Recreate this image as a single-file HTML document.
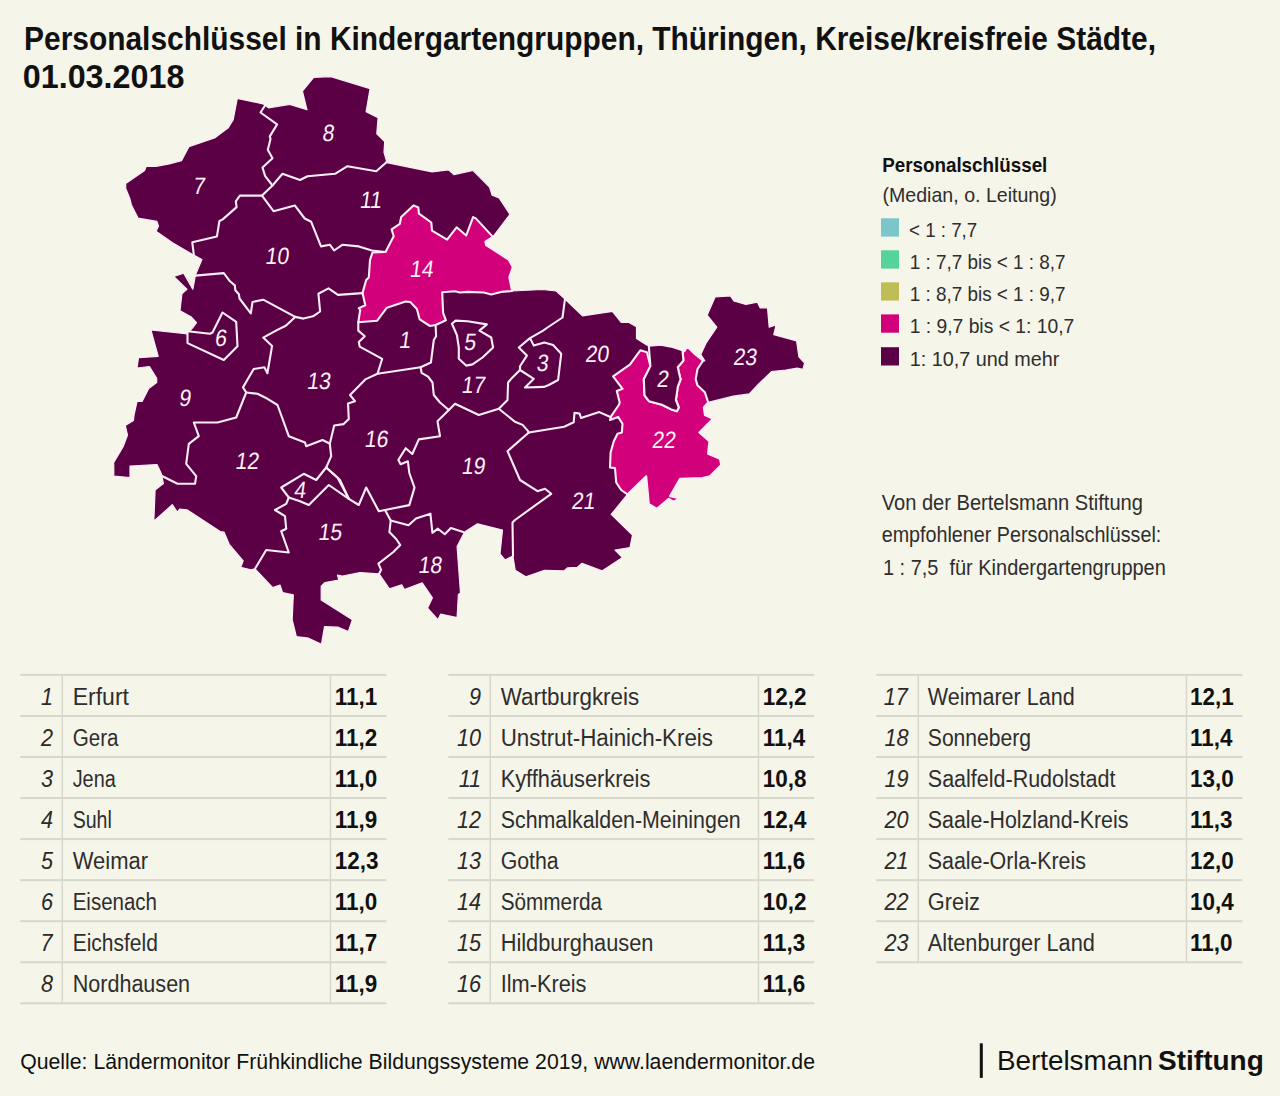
<!DOCTYPE html>
<html><head><meta charset="utf-8">
<style>
html,body{margin:0;padding:0;background:#f6f5e9}
body{width:1280px;height:1096px;overflow:hidden}
svg{display:block}
text{font-family:"Liberation Sans",sans-serif}
</style></head><body>
<svg width="1280" height="1096" viewBox="0 0 1280 1096">
<rect x="0" y="0" width="1280" height="1096" fill="#f6f5e9"/>
<polygon points="313.7,77.3 330.9,76.6 370.1,88.6 366.1,111.8 378.1,117.8 376.8,133.8 384.7,141.7 384.0,152.3 386.7,161.6 385.5,162.3 432.0,171.9 448.4,169.8 453.9,174.6 473.1,170.5 489.5,187.0 492.2,195.2 499.1,197.9 510.0,214.3 492.9,236.9 485.4,241.7 486.1,245.1 508.6,259.5 512.8,267.0 509.3,277.3 512.1,291.0 542.3,289.5 556.2,291.0 564.2,298.2 582.5,315.8 612.4,311.4 621.2,322.3 628.5,322.3 636.5,326.7 636.5,338.4 646.7,345.0 648.8,345.6 660.9,344.7 671.2,346.6 682.5,350.3 684.4,351.2 687.2,346.6 693.8,353.1 703.1,360.6 704.8,360.8 700.8,354.6 706.0,343.2 716.8,327.2 707.1,315.2 715.1,297.0 730.5,295.8 733.9,301.0 745.9,304.4 757.3,302.1 760.1,307.8 767.5,307.8 769.2,327.2 776.1,324.9 773.8,334.6 796.6,340.9 798.9,356.8 804.6,363.1 802.9,369.4 797.2,368.2 785.8,370.0 771.5,371.7 758.4,384.2 749.3,393.9 733.3,396.2 708.2,402.4 703.8,407.5 705.0,415.0 713.1,418.8 699.4,432.5 709.4,441.2 708.1,453.8 720.0,458.8 721.2,465.0 710.0,476.2 702.5,478.1 680.0,478.8 670.0,496.2 679.4,498.1 673.8,501.9 668.8,498.8 656.9,508.8 648.8,503.8 646.2,476.2 627.5,494.4 611.2,514.4 632.5,535.0 630.0,547.5 615.0,550.0 622.5,557.5 602.0,570.9 582.0,563.2 577.4,567.3 567.4,567.9 563.9,570.9 544.5,570.3 525.8,576.7 515.2,570.3 512.9,556.0 505.0,560.0 500.0,553.8 502.5,530.0 477.5,523.8 464.6,532.1 457.1,546.5 460.5,593.0 458.4,594.4 457.1,617.6 440.6,614.2 437.9,619.7 427.6,608.1 432.4,597.8 422.2,582.8 404.4,589.6 401.7,584.8 389.4,588.9 379.1,573.9 360.0,572.5 342.5,576.2 337.5,575.0 338.8,580.0 325.0,582.5 321.2,586.2 321.2,600.0 352.4,619.8 348.3,631.6 338.2,627.2 324.5,626.7 321.5,644.2 308.6,638.2 296.3,636.5 292.2,619.8 293.3,594.9 282.5,592.5 280.0,585.0 272.5,587.5 255.0,568.8 250.9,569.8 240.7,567.3 243.2,560.9 229.2,544.3 224.1,532.2 220.2,531.5 187.0,509.8 179.4,509.2 177.5,512.4 172.3,504.7 153.8,521.3 155.1,490.0 163.4,483.6 161.5,474.0 157.0,464.5 130.0,466.2 130.0,477.5 113.8,476.2 113.8,466.2 113.6,462.8 123.1,446.8 127.5,435.1 125.3,425.6 133.4,420.5 134.1,414.7 137.0,401.5 142.1,401.5 148.7,388.4 156.7,382.6 156.7,378.2 149.4,366.5 137.0,368.0 138.5,357.7 158.2,356.3 150.9,330.0 187.5,333.8 192.8,327.6 196.5,322.6 191.4,317.1 180.0,310.7 181.9,293.8 186.9,289.3 173.7,276.5 183.7,273.3 192.8,289.3 195.5,274.7 201.9,259.6 192.2,254.2 172.5,242.7 156.0,231.2 158.5,226.3 156.9,221.4 138.0,218.1 131.4,204.9 129.8,198.4 125.7,188.5 125.7,183.6 144.6,170.5 146.2,166.3 156.0,166.3 169.2,163.9 181.5,160.6 188.9,146.7 215.2,137.6 228.3,127.8 233.2,119.6 237.3,98.5 263.2,103.9 265.2,105.2 268.5,107.8 289.8,104.5 307.0,109.8 302.4,91.2" fill="#5c0046" stroke="#fbeef6" stroke-width="1.2" stroke-linejoin="round"/>
<polygon points="385.5,252.0 393.7,236.2 391.6,229.4 399.8,223.9 401.2,217.0 413.5,205.4 418.3,207.5 419.0,213.6 431.3,222.5 432.0,230.7 447.1,239.6 456.6,227.3 466.2,235.5 473.1,217.1 475.8,218.4 492.9,236.9 485.4,241.7 486.1,245.1 508.6,259.5 512.8,267.0 509.3,277.3 512.1,291.0 501.2,291.9 491.2,294.4 483.8,292.5 467.5,291.9 460.0,292.5 455.0,291.2 442.2,292.2 443.1,312.8 445.9,320.3 435.6,325.0 430.0,326.0 419.7,319.4 416.9,309.0 410.3,302.0 405.6,301.6 386.9,307.7 377.0,320.8 358.3,322.2 360.2,310.0 358.8,308.1 365.3,305.3 362.5,293.1 366.2,280.0 368.8,277.5 370.0,260.0 372.5,252.5" fill="#d2007a" stroke="#fbeef6" stroke-width="2.1" stroke-linejoin="round"/>
<polygon points="640.3,350.3 646.9,352.2 650.4,366.1 643.8,379.3 644.5,395.3 648.9,401.2 661.9,404.7 671.2,409.4 676.9,411.2 678.8,407.5 675.9,400.0 677.8,386.9 680.6,379.4 678.8,371.9 677.8,367.2 683.4,360.6 682.5,350.3 684.4,351.2 687.2,346.6 693.8,353.1 703.1,360.6 697.5,369.0 695.7,379.1 697.4,385.3 704.8,392.2 708.2,402.4 703.8,407.5 705.0,415.0 713.1,418.8 699.4,432.5 709.4,441.2 708.1,453.8 720.0,458.8 721.2,465.0 710.0,476.2 702.5,478.1 680.0,478.8 670.0,496.2 679.4,498.1 673.8,501.9 668.8,498.8 656.9,508.8 648.8,503.8 646.2,476.2 627.5,494.4 621.2,490.0 616.2,482.5 615.0,468.1 610.0,467.5 610.6,452.5 613.8,441.2 617.5,433.8 621.9,432.5 622.5,423.8 618.1,416.9 610.0,420.0 611.2,416.2 618.8,405.0 619.7,402.6 616.8,391.0 622.6,388.8 613.1,376.4 629.9,364.7" fill="#d2007a" stroke="#fbeef6" stroke-width="2.1" stroke-linejoin="round"/>
<polygon points="187.5,331.2 210.0,333.8 212.5,332.5 222.5,312.5 236.2,321.9 237.5,346.2 223.8,360.0 187.5,343.1" fill="#5c0046" stroke="#fbeef6" stroke-width="2.1" stroke-linejoin="round"/>
<polygon points="451.9,323.8 455.6,320.6 467.5,321.2 486.9,324.4 479.4,330.6 491.2,337.5 493.1,347.5 482.5,357.5 472.5,364.4 466.2,365.6 458.8,358.8 458.8,347.5 456.9,335.0 452.5,325.0" fill="#5c0046" stroke="#fbeef6" stroke-width="2.1" stroke-linejoin="round"/>
<polygon points="530.0,338.1 533.8,345.6 544.4,342.5 553.1,345.0 561.2,353.8 558.1,380.0 548.8,385.0 543.8,386.9 525.0,387.5 533.8,378.8 520.0,370.0 520.0,366.2 526.9,355.6 518.8,347.5" fill="#5c0046" stroke="#fbeef6" stroke-width="2.1" stroke-linejoin="round"/>
<polygon points="648.8,345.6 660.9,344.7 671.2,346.6 682.5,350.3 683.4,360.6 677.8,367.2 678.8,371.9 680.6,379.4 677.8,386.9 675.9,400.0 678.8,407.5 676.9,411.2 671.2,409.4 661.9,404.7 648.9,401.2 644.5,395.3 643.8,379.3 650.4,366.1" fill="#5c0046" stroke="#fbeef6" stroke-width="2.1" stroke-linejoin="round"/>
<polygon points="281.2,487.5 303.8,473.8 316.2,480.0 326.2,467.5 337.5,477.5 348.8,498.8 328.8,485.0 308.8,505.0 300.0,501.2 288.8,497.5" fill="#5c0046" stroke="#fbeef6" stroke-width="2.1" stroke-linejoin="round"/>
<polyline points="265.2,105.2 260.5,112.5 277.1,124.4 269.8,136.4 270.5,139.0 267.8,149.7 272.5,158.3 262.5,167.6 265.2,176.2 272.5,185.5" fill="none" stroke="#fbeef6" stroke-width="2.1" stroke-linejoin="round" stroke-linecap="round"/>
<polyline points="272.5,185.5 282.5,173.8 300.0,180.0 307.5,176.2 335.0,173.8 347.5,166.2 376.2,171.2 386.2,162.5" fill="none" stroke="#fbeef6" stroke-width="2.1" stroke-linejoin="round" stroke-linecap="round"/>
<polyline points="272.5,185.5 262.0,195.6 239.9,195.6 235.8,201.3 236.6,207.1 222.7,219.4 219.4,221.0 216.9,236.6 192.3,242.3 194.0,256.3" fill="none" stroke="#fbeef6" stroke-width="2.1" stroke-linejoin="round" stroke-linecap="round"/>
<polyline points="262.0,195.6 273.5,211.2 294.8,205.4 304.7,218.5 311.2,221.8 321.0,246.4 330.0,244.8 334.1,250.5 342.3,244.8 358.8,246.4 371.9,250.5 385.5,252.0" fill="none" stroke="#fbeef6" stroke-width="2.1" stroke-linejoin="round" stroke-linecap="round"/>
<polyline points="195.0,275.6 223.8,273.1 230.0,281.3 234.8,285.4 235.3,290.2 238.9,294.3 239.5,298.5 250.8,313.3 252.5,302.0 263.2,299.7 295.2,316.9" fill="none" stroke="#fbeef6" stroke-width="2.1" stroke-linejoin="round" stroke-linecap="round"/>
<polyline points="295.2,316.9 303.5,318.6 313.0,316.3 320.1,311.5 318.4,293.7 328.5,288.4 338.0,294.9 362.5,293.1" fill="none" stroke="#fbeef6" stroke-width="2.1" stroke-linejoin="round" stroke-linecap="round"/>
<polyline points="295.2,316.9 285.8,325.8 277.4,329.9 263.2,337.6 272.1,345.9 267.4,373.2 264.4,367.3 253.7,369.0 243.0,387.4 246.2,392.5" fill="none" stroke="#fbeef6" stroke-width="2.1" stroke-linejoin="round" stroke-linecap="round"/>
<polyline points="358.3,322.2 358.3,330.6 364.8,336.2 358.8,341.9 359.7,346.6 382.2,358.8 377.5,373.8" fill="none" stroke="#fbeef6" stroke-width="2.1" stroke-linejoin="round" stroke-linecap="round"/>
<polyline points="377.5,373.8 420.6,367.2" fill="none" stroke="#fbeef6" stroke-width="2.1" stroke-linejoin="round" stroke-linecap="round"/>
<polyline points="435.6,325.0 436.1,336.2 433.8,340.0 430.9,362.5 420.6,367.2" fill="none" stroke="#fbeef6" stroke-width="2.1" stroke-linejoin="round" stroke-linecap="round"/>
<polyline points="420.6,367.2 421.6,372.8 428.1,376.6 432.5,382.5 433.8,395.0 440.0,402.5 448.8,410.0" fill="none" stroke="#fbeef6" stroke-width="2.1" stroke-linejoin="round" stroke-linecap="round"/>
<polyline points="377.5,373.8 365.3,379.4 350.0,395.0 355.0,401.2 348.0,403.6 348.8,419.0 343.6,424.1 334.2,425.5 329.8,443.8 331.2,456.2 326.2,467.5" fill="none" stroke="#fbeef6" stroke-width="2.1" stroke-linejoin="round" stroke-linecap="round"/>
<polyline points="246.2,392.5 257.5,393.8 267.5,398.8 277.5,405.0 288.8,436.2 305.0,442.5 306.2,446.2 322.5,440.0 330.0,443.8" fill="none" stroke="#fbeef6" stroke-width="2.1" stroke-linejoin="round" stroke-linecap="round"/>
<polyline points="246.2,392.5 236.2,417.5 217.5,422.5 193.8,422.5 198.8,436.2 188.8,443.8 186.2,463.8 196.2,476.2 195.0,483.8 177.5,483.8 162.5,476.2" fill="none" stroke="#fbeef6" stroke-width="2.1" stroke-linejoin="round" stroke-linecap="round"/>
<polyline points="326.2,467.5 340.0,480.0 348.8,498.8 358.8,505.0 366.2,487.5 378.8,511.2 385.0,510.0" fill="none" stroke="#fbeef6" stroke-width="2.1" stroke-linejoin="round" stroke-linecap="round"/>
<polyline points="288.8,497.5 286.2,503.8 275.0,510.0 285.0,516.2 286.2,528.8 281.2,531.2 288.8,552.5 266.2,550.0 255.0,568.8" fill="none" stroke="#fbeef6" stroke-width="2.1" stroke-linejoin="round" stroke-linecap="round"/>
<polyline points="448.8,410.0 437.5,421.2 440.0,436.2 418.8,439.4 412.3,454.0 405.7,448.2 398.4,459.9 400.6,464.2 407.9,461.3 409.3,473.0 414.5,487.6 409.3,505.1 385.0,510.0" fill="none" stroke="#fbeef6" stroke-width="2.1" stroke-linejoin="round" stroke-linecap="round"/>
<polyline points="448.8,410.0 455.0,403.8 478.8,415.0 498.8,408.8 514.9,421.7 522.6,424.9 527.7,430.6 528.8,432.5" fill="none" stroke="#fbeef6" stroke-width="2.1" stroke-linejoin="round" stroke-linecap="round"/>
<polyline points="565.0,298.8 562.5,317.5 547.5,327.5 543.1,330.6 530.0,338.1" fill="none" stroke="#fbeef6" stroke-width="2.1" stroke-linejoin="round" stroke-linecap="round"/>
<polyline points="520.0,370.0 511.2,378.8 508.1,382.5 507.5,400.0 498.8,408.8" fill="none" stroke="#fbeef6" stroke-width="2.1" stroke-linejoin="round" stroke-linecap="round"/>
<polyline points="528.8,432.5 507.5,451.2 520.0,480.0 537.5,491.2 545.0,488.8 551.2,493.8 515.0,520.0 512.5,522.5 513.0,556.0" fill="none" stroke="#fbeef6" stroke-width="2.1" stroke-linejoin="round" stroke-linecap="round"/>
<polyline points="528.8,432.5 564.2,426.7 573.7,422.3 574.5,412.8 579.6,413.6 581.0,418.0 599.3,412.1 611.0,417.2" fill="none" stroke="#fbeef6" stroke-width="2.1" stroke-linejoin="round" stroke-linecap="round"/>
<polyline points="385.0,510.0 390.7,520.5 408.5,525.3 416.0,518.5 430.4,513.7 432.4,532.8 437.9,528.7 444.8,534.2 450.9,528.0 463.2,532.1" fill="none" stroke="#fbeef6" stroke-width="2.1" stroke-linejoin="round" stroke-linecap="round"/>
<polyline points="390.7,520.5 389.4,532.1 396.2,539.0 400.3,545.1 393.4,552.0 378.4,563.6 381.1,569.8 379.1,573.9" fill="none" stroke="#fbeef6" stroke-width="2.1" stroke-linejoin="round" stroke-linecap="round"/>
<text transform="translate(328.75,141.18) skewX(-8)" x="-6.99" y="0" font-size="23.5" fill="#fff2f9" textLength="11.76" lengthAdjust="spacingAndGlyphs">8</text>
<text transform="translate(199.40,193.68) skewX(-8)" x="-6.99" y="0" font-size="23.5" fill="#fff2f9" textLength="11.76" lengthAdjust="spacingAndGlyphs">7</text>
<text transform="translate(371.25,208.08) skewX(-8)" x="-12.08" y="0" font-size="23.5" fill="#fff2f9" textLength="21.96" lengthAdjust="spacingAndGlyphs">11</text>
<text transform="translate(277.50,263.68) skewX(-8)" x="-12.85" y="0" font-size="23.5" fill="#fff2f9" textLength="23.53" lengthAdjust="spacingAndGlyphs">10</text>
<text transform="translate(422.10,276.83) skewX(-8)" x="-12.85" y="0" font-size="23.5" fill="#fff2f9" textLength="23.53" lengthAdjust="spacingAndGlyphs">14</text>
<text transform="translate(405.60,348.08) skewX(-8)" x="-6.99" y="0" font-size="23.5" fill="#fff2f9" textLength="11.76" lengthAdjust="spacingAndGlyphs">1</text>
<text transform="translate(470.60,349.98) skewX(-8)" x="-6.99" y="0" font-size="23.5" fill="#fff2f9" textLength="11.76" lengthAdjust="spacingAndGlyphs">5</text>
<text transform="translate(543.10,370.58) skewX(-8)" x="-6.99" y="0" font-size="23.5" fill="#fff2f9" textLength="11.76" lengthAdjust="spacingAndGlyphs">3</text>
<text transform="translate(597.50,361.83) skewX(-8)" x="-12.85" y="0" font-size="23.5" fill="#fff2f9" textLength="23.53" lengthAdjust="spacingAndGlyphs">20</text>
<text transform="translate(663.30,386.98) skewX(-8)" x="-6.99" y="0" font-size="23.5" fill="#fff2f9" textLength="11.76" lengthAdjust="spacingAndGlyphs">2</text>
<text transform="translate(745.70,365.38) skewX(-8)" x="-12.85" y="0" font-size="23.5" fill="#fff2f9" textLength="23.53" lengthAdjust="spacingAndGlyphs">23</text>
<text transform="translate(664.25,447.88) skewX(-8)" x="-12.85" y="0" font-size="23.5" fill="#fff2f9" textLength="23.53" lengthAdjust="spacingAndGlyphs">22</text>
<text transform="translate(221.25,346.18) skewX(-8)" x="-6.99" y="0" font-size="23.5" fill="#fff2f9" textLength="11.76" lengthAdjust="spacingAndGlyphs">6</text>
<text transform="translate(185.60,405.58) skewX(-8)" x="-6.99" y="0" font-size="23.5" fill="#fff2f9" textLength="11.76" lengthAdjust="spacingAndGlyphs">9</text>
<text transform="translate(319.40,388.68) skewX(-8)" x="-12.85" y="0" font-size="23.5" fill="#fff2f9" textLength="23.53" lengthAdjust="spacingAndGlyphs">13</text>
<text transform="translate(247.50,468.68) skewX(-8)" x="-12.85" y="0" font-size="23.5" fill="#fff2f9" textLength="23.53" lengthAdjust="spacingAndGlyphs">12</text>
<text transform="translate(376.90,447.48) skewX(-8)" x="-12.85" y="0" font-size="23.5" fill="#fff2f9" textLength="23.53" lengthAdjust="spacingAndGlyphs">16</text>
<text transform="translate(473.75,393.08) skewX(-8)" x="-12.85" y="0" font-size="23.5" fill="#fff2f9" textLength="23.53" lengthAdjust="spacingAndGlyphs">17</text>
<text transform="translate(473.75,473.68) skewX(-8)" x="-12.85" y="0" font-size="23.5" fill="#fff2f9" textLength="23.53" lengthAdjust="spacingAndGlyphs">19</text>
<text transform="translate(583.75,508.68) skewX(-8)" x="-12.85" y="0" font-size="23.5" fill="#fff2f9" textLength="23.53" lengthAdjust="spacingAndGlyphs">21</text>
<text transform="translate(430.60,573.08) skewX(-8)" x="-12.85" y="0" font-size="23.5" fill="#fff2f9" textLength="23.53" lengthAdjust="spacingAndGlyphs">18</text>
<text transform="translate(300.60,498.08) skewX(-8)" x="-6.99" y="0" font-size="23.5" fill="#fff2f9" textLength="11.76" lengthAdjust="spacingAndGlyphs">4</text>
<text transform="translate(330.60,539.98) skewX(-8)" x="-12.85" y="0" font-size="23.5" fill="#fff2f9" textLength="23.53" lengthAdjust="spacingAndGlyphs">15</text>
<text x="24.06" y="49.70" font-size="33" font-weight="bold" fill="#111" textLength="1131.90" lengthAdjust="spacingAndGlyphs">Personalschlüssel in Kindergartengruppen, Thüringen, Kreise/kreisfreie Städte,</text>
<text x="22.75" y="88.10" font-size="33" font-weight="bold" fill="#111" textLength="161.61" lengthAdjust="spacingAndGlyphs">01.03.2018</text>
<text x="882.20" y="171.90" font-size="21" font-weight="bold" fill="#111" textLength="165.13" lengthAdjust="spacingAndGlyphs">Personalschlüssel</text>
<text x="882.50" y="202.30" font-size="21" fill="#2e2e2e" textLength="174.18" lengthAdjust="spacingAndGlyphs">(Median, o. Leitung)</text>
<text x="909.00" y="236.60" font-size="20.5" fill="#2e2e2e" textLength="68.26" lengthAdjust="spacingAndGlyphs">&lt; 1 : 7,7</text>
<rect x="881" y="218.30" width="18" height="18.3" fill="#7ac6c9"/>
<text x="909.70" y="268.60" font-size="20.5" fill="#2e2e2e" textLength="155.93" lengthAdjust="spacingAndGlyphs">1 : 7,7 bis &lt; 1 : 8,7</text>
<rect x="881" y="250.30" width="18" height="18.3" fill="#55d39b"/>
<text x="909.70" y="300.60" font-size="20.5" fill="#2e2e2e" textLength="155.93" lengthAdjust="spacingAndGlyphs">1 : 8,7 bis &lt; 1 : 9,7</text>
<rect x="881" y="282.30" width="18" height="18.3" fill="#bfbe56"/>
<text x="909.70" y="332.70" font-size="20.5" fill="#2e2e2e" textLength="164.54" lengthAdjust="spacingAndGlyphs">1 : 9,7 bis &lt; 1: 10,7</text>
<rect x="881" y="314.40" width="18" height="18.3" fill="#d2007a"/>
<text x="909.70" y="365.50" font-size="20.5" fill="#2e2e2e" textLength="149.69" lengthAdjust="spacingAndGlyphs">1: 10,7 und mehr</text>
<rect x="881" y="347.20" width="18" height="18.3" fill="#5c0046"/>
<text x="881.70" y="510.30" font-size="21.3" fill="#2e2e2e" textLength="261.26" lengthAdjust="spacingAndGlyphs">Von der Bertelsmann Stiftung</text>
<text x="881.70" y="542.00" font-size="21.3" fill="#2e2e2e" textLength="279.60" lengthAdjust="spacingAndGlyphs">empfohlener Personalschlüssel:</text>
<text x="882.90" y="574.80" font-size="21.3" fill="#2e2e2e" textLength="282.94" lengthAdjust="spacingAndGlyphs">1 : 7,5  für Kindergartengruppen</text>
<rect x="20.30" y="673.90" width="366" height="2" fill="#d8d7cd"/>
<rect x="20.30" y="714.95" width="366" height="2" fill="#d8d7cd"/>
<rect x="20.30" y="756.00" width="366" height="2" fill="#d8d7cd"/>
<rect x="20.30" y="797.05" width="366" height="2" fill="#d8d7cd"/>
<rect x="20.30" y="838.10" width="366" height="2" fill="#d8d7cd"/>
<rect x="20.30" y="879.15" width="366" height="2" fill="#d8d7cd"/>
<rect x="20.30" y="920.20" width="366" height="2" fill="#d8d7cd"/>
<rect x="20.30" y="961.25" width="366" height="2" fill="#d8d7cd"/>
<rect x="20.30" y="1002.30" width="366" height="2" fill="#d8d7cd"/>
<rect x="61.50" y="674.9" width="1.5" height="328.40" fill="#d8d7cd"/>
<rect x="329.70" y="674.9" width="1.5" height="328.40" fill="#d8d7cd"/>
<text x="41.05" y="704.50" font-size="23.5" font-style="italic" fill="#2a2a2a" textLength="12.02" lengthAdjust="spacingAndGlyphs">1</text>
<text x="72.70" y="704.50" font-size="23.5" fill="#2e2e2e" textLength="56.26" lengthAdjust="spacingAndGlyphs">Erfurt</text>
<text x="334.70" y="704.50" font-size="23.5" font-weight="bold" fill="#111" textLength="42.44" lengthAdjust="spacingAndGlyphs">11,1</text>
<text x="41.05" y="745.55" font-size="23.5" font-style="italic" fill="#2a2a2a" textLength="12.02" lengthAdjust="spacingAndGlyphs">2</text>
<text x="72.70" y="745.55" font-size="23.5" fill="#2e2e2e" textLength="45.75" lengthAdjust="spacingAndGlyphs">Gera</text>
<text x="334.70" y="745.55" font-size="23.5" font-weight="bold" fill="#111" textLength="42.44" lengthAdjust="spacingAndGlyphs">11,2</text>
<text x="41.05" y="786.60" font-size="23.5" font-style="italic" fill="#2a2a2a" textLength="12.02" lengthAdjust="spacingAndGlyphs">3</text>
<text x="72.70" y="786.60" font-size="23.5" fill="#2e2e2e" textLength="43.02" lengthAdjust="spacingAndGlyphs">Jena</text>
<text x="334.70" y="786.60" font-size="23.5" font-weight="bold" fill="#111" textLength="42.44" lengthAdjust="spacingAndGlyphs">11,0</text>
<text x="41.05" y="827.65" font-size="23.5" font-style="italic" fill="#2a2a2a" textLength="12.02" lengthAdjust="spacingAndGlyphs">4</text>
<text x="72.70" y="827.65" font-size="23.5" fill="#2e2e2e" textLength="39.13" lengthAdjust="spacingAndGlyphs">Suhl</text>
<text x="334.70" y="827.65" font-size="23.5" font-weight="bold" fill="#111" textLength="42.44" lengthAdjust="spacingAndGlyphs">11,9</text>
<text x="40.96" y="868.70" font-size="23.5" font-style="italic" fill="#2a2a2a" textLength="12.02" lengthAdjust="spacingAndGlyphs">5</text>
<text x="72.70" y="868.70" font-size="23.5" fill="#2e2e2e" textLength="75.31" lengthAdjust="spacingAndGlyphs">Weimar</text>
<text x="334.70" y="868.70" font-size="23.5" font-weight="bold" fill="#111" textLength="43.68" lengthAdjust="spacingAndGlyphs">12,3</text>
<text x="41.05" y="909.75" font-size="23.5" font-style="italic" fill="#2a2a2a" textLength="12.02" lengthAdjust="spacingAndGlyphs">6</text>
<text x="72.70" y="909.75" font-size="23.5" fill="#2e2e2e" textLength="84.28" lengthAdjust="spacingAndGlyphs">Eisenach</text>
<text x="334.70" y="909.75" font-size="23.5" font-weight="bold" fill="#111" textLength="42.44" lengthAdjust="spacingAndGlyphs">11,0</text>
<text x="40.40" y="950.80" font-size="23.5" font-style="italic" fill="#2a2a2a" textLength="12.02" lengthAdjust="spacingAndGlyphs">7</text>
<text x="72.70" y="950.80" font-size="23.5" fill="#2e2e2e" textLength="85.16" lengthAdjust="spacingAndGlyphs">Eichsfeld</text>
<text x="334.70" y="950.80" font-size="23.5" font-weight="bold" fill="#111" textLength="42.44" lengthAdjust="spacingAndGlyphs">11,7</text>
<text x="41.05" y="991.85" font-size="23.5" font-style="italic" fill="#2a2a2a" textLength="12.02" lengthAdjust="spacingAndGlyphs">8</text>
<text x="72.70" y="991.85" font-size="23.5" fill="#2e2e2e" textLength="117.43" lengthAdjust="spacingAndGlyphs">Nordhausen</text>
<text x="334.70" y="991.85" font-size="23.5" font-weight="bold" fill="#111" textLength="42.44" lengthAdjust="spacingAndGlyphs">11,9</text>
<rect x="448.30" y="673.90" width="366" height="2" fill="#d8d7cd"/>
<rect x="448.30" y="714.95" width="366" height="2" fill="#d8d7cd"/>
<rect x="448.30" y="756.00" width="366" height="2" fill="#d8d7cd"/>
<rect x="448.30" y="797.05" width="366" height="2" fill="#d8d7cd"/>
<rect x="448.30" y="838.10" width="366" height="2" fill="#d8d7cd"/>
<rect x="448.30" y="879.15" width="366" height="2" fill="#d8d7cd"/>
<rect x="448.30" y="920.20" width="366" height="2" fill="#d8d7cd"/>
<rect x="448.30" y="961.25" width="366" height="2" fill="#d8d7cd"/>
<rect x="448.30" y="1002.30" width="366" height="2" fill="#d8d7cd"/>
<rect x="489.50" y="674.9" width="1.5" height="328.40" fill="#d8d7cd"/>
<rect x="757.70" y="674.9" width="1.5" height="328.40" fill="#d8d7cd"/>
<text x="469.05" y="704.50" font-size="23.5" font-style="italic" fill="#2a2a2a" textLength="12.02" lengthAdjust="spacingAndGlyphs">9</text>
<text x="500.70" y="704.50" font-size="23.5" fill="#2e2e2e" textLength="138.49" lengthAdjust="spacingAndGlyphs">Wartburgkreis</text>
<text x="762.70" y="704.50" font-size="23.5" font-weight="bold" fill="#111" textLength="43.68" lengthAdjust="spacingAndGlyphs">12,2</text>
<text x="457.09" y="745.55" font-size="23.5" font-style="italic" fill="#2a2a2a" textLength="24.05" lengthAdjust="spacingAndGlyphs">10</text>
<text x="500.70" y="745.55" font-size="23.5" fill="#2e2e2e" textLength="212.31" lengthAdjust="spacingAndGlyphs">Unstrut-Hainich-Kreis</text>
<text x="762.70" y="745.55" font-size="23.5" font-weight="bold" fill="#111" textLength="42.44" lengthAdjust="spacingAndGlyphs">11,4</text>
<text x="458.65" y="786.60" font-size="23.5" font-style="italic" fill="#2a2a2a" textLength="22.45" lengthAdjust="spacingAndGlyphs">11</text>
<text x="500.70" y="786.60" font-size="23.5" fill="#2e2e2e" textLength="149.63" lengthAdjust="spacingAndGlyphs">Kyffhäuserkreis</text>
<text x="762.70" y="786.60" font-size="23.5" font-weight="bold" fill="#111" textLength="43.68" lengthAdjust="spacingAndGlyphs">10,8</text>
<text x="457.09" y="827.65" font-size="23.5" font-style="italic" fill="#2a2a2a" textLength="24.05" lengthAdjust="spacingAndGlyphs">12</text>
<text x="500.70" y="827.65" font-size="23.5" fill="#2e2e2e" textLength="239.98" lengthAdjust="spacingAndGlyphs">Schmalkalden-Meiningen</text>
<text x="762.70" y="827.65" font-size="23.5" font-weight="bold" fill="#111" textLength="43.68" lengthAdjust="spacingAndGlyphs">12,4</text>
<text x="457.09" y="868.70" font-size="23.5" font-style="italic" fill="#2a2a2a" textLength="24.05" lengthAdjust="spacingAndGlyphs">13</text>
<text x="500.70" y="868.70" font-size="23.5" fill="#2e2e2e" textLength="58.03" lengthAdjust="spacingAndGlyphs">Gotha</text>
<text x="762.70" y="868.70" font-size="23.5" font-weight="bold" fill="#111" textLength="42.44" lengthAdjust="spacingAndGlyphs">11,6</text>
<text x="457.09" y="909.75" font-size="23.5" font-style="italic" fill="#2a2a2a" textLength="24.05" lengthAdjust="spacingAndGlyphs">14</text>
<text x="500.70" y="909.75" font-size="23.5" fill="#2e2e2e" textLength="101.44" lengthAdjust="spacingAndGlyphs">Sömmerda</text>
<text x="762.70" y="909.75" font-size="23.5" font-weight="bold" fill="#111" textLength="43.68" lengthAdjust="spacingAndGlyphs">10,2</text>
<text x="456.90" y="950.80" font-size="23.5" font-style="italic" fill="#2a2a2a" textLength="24.05" lengthAdjust="spacingAndGlyphs">15</text>
<text x="500.70" y="950.80" font-size="23.5" fill="#2e2e2e" textLength="152.72" lengthAdjust="spacingAndGlyphs">Hildburghausen</text>
<text x="762.70" y="950.80" font-size="23.5" font-weight="bold" fill="#111" textLength="42.44" lengthAdjust="spacingAndGlyphs">11,3</text>
<text x="457.00" y="991.85" font-size="23.5" font-style="italic" fill="#2a2a2a" textLength="24.05" lengthAdjust="spacingAndGlyphs">16</text>
<text x="500.70" y="991.85" font-size="23.5" fill="#2e2e2e" textLength="85.79" lengthAdjust="spacingAndGlyphs">Ilm-Kreis</text>
<text x="762.70" y="991.85" font-size="23.5" font-weight="bold" fill="#111" textLength="42.44" lengthAdjust="spacingAndGlyphs">11,6</text>
<rect x="876.30" y="673.90" width="366" height="2" fill="#d8d7cd"/>
<rect x="876.30" y="714.95" width="366" height="2" fill="#d8d7cd"/>
<rect x="876.30" y="756.00" width="366" height="2" fill="#d8d7cd"/>
<rect x="876.30" y="797.05" width="366" height="2" fill="#d8d7cd"/>
<rect x="876.30" y="838.10" width="366" height="2" fill="#d8d7cd"/>
<rect x="876.30" y="879.15" width="366" height="2" fill="#d8d7cd"/>
<rect x="876.30" y="920.20" width="366" height="2" fill="#d8d7cd"/>
<rect x="876.30" y="961.25" width="366" height="2" fill="#d8d7cd"/>
<rect x="917.50" y="674.9" width="1.5" height="287.35" fill="#d8d7cd"/>
<rect x="1185.70" y="674.9" width="1.5" height="287.35" fill="#d8d7cd"/>
<text x="883.75" y="704.50" font-size="23.5" font-style="italic" fill="#2a2a2a" textLength="24.05" lengthAdjust="spacingAndGlyphs">17</text>
<text x="927.80" y="704.50" font-size="23.5" fill="#2e2e2e" textLength="146.92" lengthAdjust="spacingAndGlyphs">Weimarer Land</text>
<text x="1190.10" y="704.50" font-size="23.5" font-weight="bold" fill="#111" textLength="43.68" lengthAdjust="spacingAndGlyphs">12,1</text>
<text x="884.49" y="745.55" font-size="23.5" font-style="italic" fill="#2a2a2a" textLength="24.05" lengthAdjust="spacingAndGlyphs">18</text>
<text x="927.80" y="745.55" font-size="23.5" fill="#2e2e2e" textLength="103.29" lengthAdjust="spacingAndGlyphs">Sonneberg</text>
<text x="1190.10" y="745.55" font-size="23.5" font-weight="bold" fill="#111" textLength="42.44" lengthAdjust="spacingAndGlyphs">11,4</text>
<text x="884.49" y="786.60" font-size="23.5" font-style="italic" fill="#2a2a2a" textLength="24.05" lengthAdjust="spacingAndGlyphs">19</text>
<text x="927.80" y="786.60" font-size="23.5" fill="#2e2e2e" textLength="187.60" lengthAdjust="spacingAndGlyphs">Saalfeld-Rudolstadt</text>
<text x="1190.10" y="786.60" font-size="23.5" font-weight="bold" fill="#111" textLength="43.68" lengthAdjust="spacingAndGlyphs">13,0</text>
<text x="884.49" y="827.65" font-size="23.5" font-style="italic" fill="#2a2a2a" textLength="24.05" lengthAdjust="spacingAndGlyphs">20</text>
<text x="927.80" y="827.65" font-size="23.5" fill="#2e2e2e" textLength="200.54" lengthAdjust="spacingAndGlyphs">Saale-Holzland-Kreis</text>
<text x="1190.10" y="827.65" font-size="23.5" font-weight="bold" fill="#111" textLength="42.44" lengthAdjust="spacingAndGlyphs">11,3</text>
<text x="884.49" y="868.70" font-size="23.5" font-style="italic" fill="#2a2a2a" textLength="24.05" lengthAdjust="spacingAndGlyphs">21</text>
<text x="927.80" y="868.70" font-size="23.5" fill="#2e2e2e" textLength="158.09" lengthAdjust="spacingAndGlyphs">Saale-Orla-Kreis</text>
<text x="1190.10" y="868.70" font-size="23.5" font-weight="bold" fill="#111" textLength="43.68" lengthAdjust="spacingAndGlyphs">12,0</text>
<text x="884.49" y="909.75" font-size="23.5" font-style="italic" fill="#2a2a2a" textLength="24.05" lengthAdjust="spacingAndGlyphs">22</text>
<text x="927.80" y="909.75" font-size="23.5" fill="#2e2e2e" textLength="52.14" lengthAdjust="spacingAndGlyphs">Greiz</text>
<text x="1190.10" y="909.75" font-size="23.5" font-weight="bold" fill="#111" textLength="43.68" lengthAdjust="spacingAndGlyphs">10,4</text>
<text x="884.49" y="950.80" font-size="23.5" font-style="italic" fill="#2a2a2a" textLength="24.05" lengthAdjust="spacingAndGlyphs">23</text>
<text x="927.80" y="950.80" font-size="23.5" fill="#2e2e2e" textLength="167.11" lengthAdjust="spacingAndGlyphs">Altenburger Land</text>
<text x="1190.10" y="950.80" font-size="23.5" font-weight="bold" fill="#111" textLength="42.44" lengthAdjust="spacingAndGlyphs">11,0</text>
<text x="20.20" y="1069.40" font-size="21.8" fill="#111" textLength="794.79" lengthAdjust="spacingAndGlyphs">Quelle: Ländermonitor Frühkindliche Bildungssysteme 2019, www.laendermonitor.de</text>
<rect x="979.8" y="1043.3" width="3" height="34.6" fill="#111"/>
<text x="996.90" y="1070.40" font-size="28" fill="#111" textLength="156.19" lengthAdjust="spacingAndGlyphs">Bertelsmann</text>
<text x="1158.10" y="1070.40" font-size="28" font-weight="bold" fill="#111" textLength="105.69" lengthAdjust="spacingAndGlyphs">Stiftung</text>
</svg>
</body></html>
